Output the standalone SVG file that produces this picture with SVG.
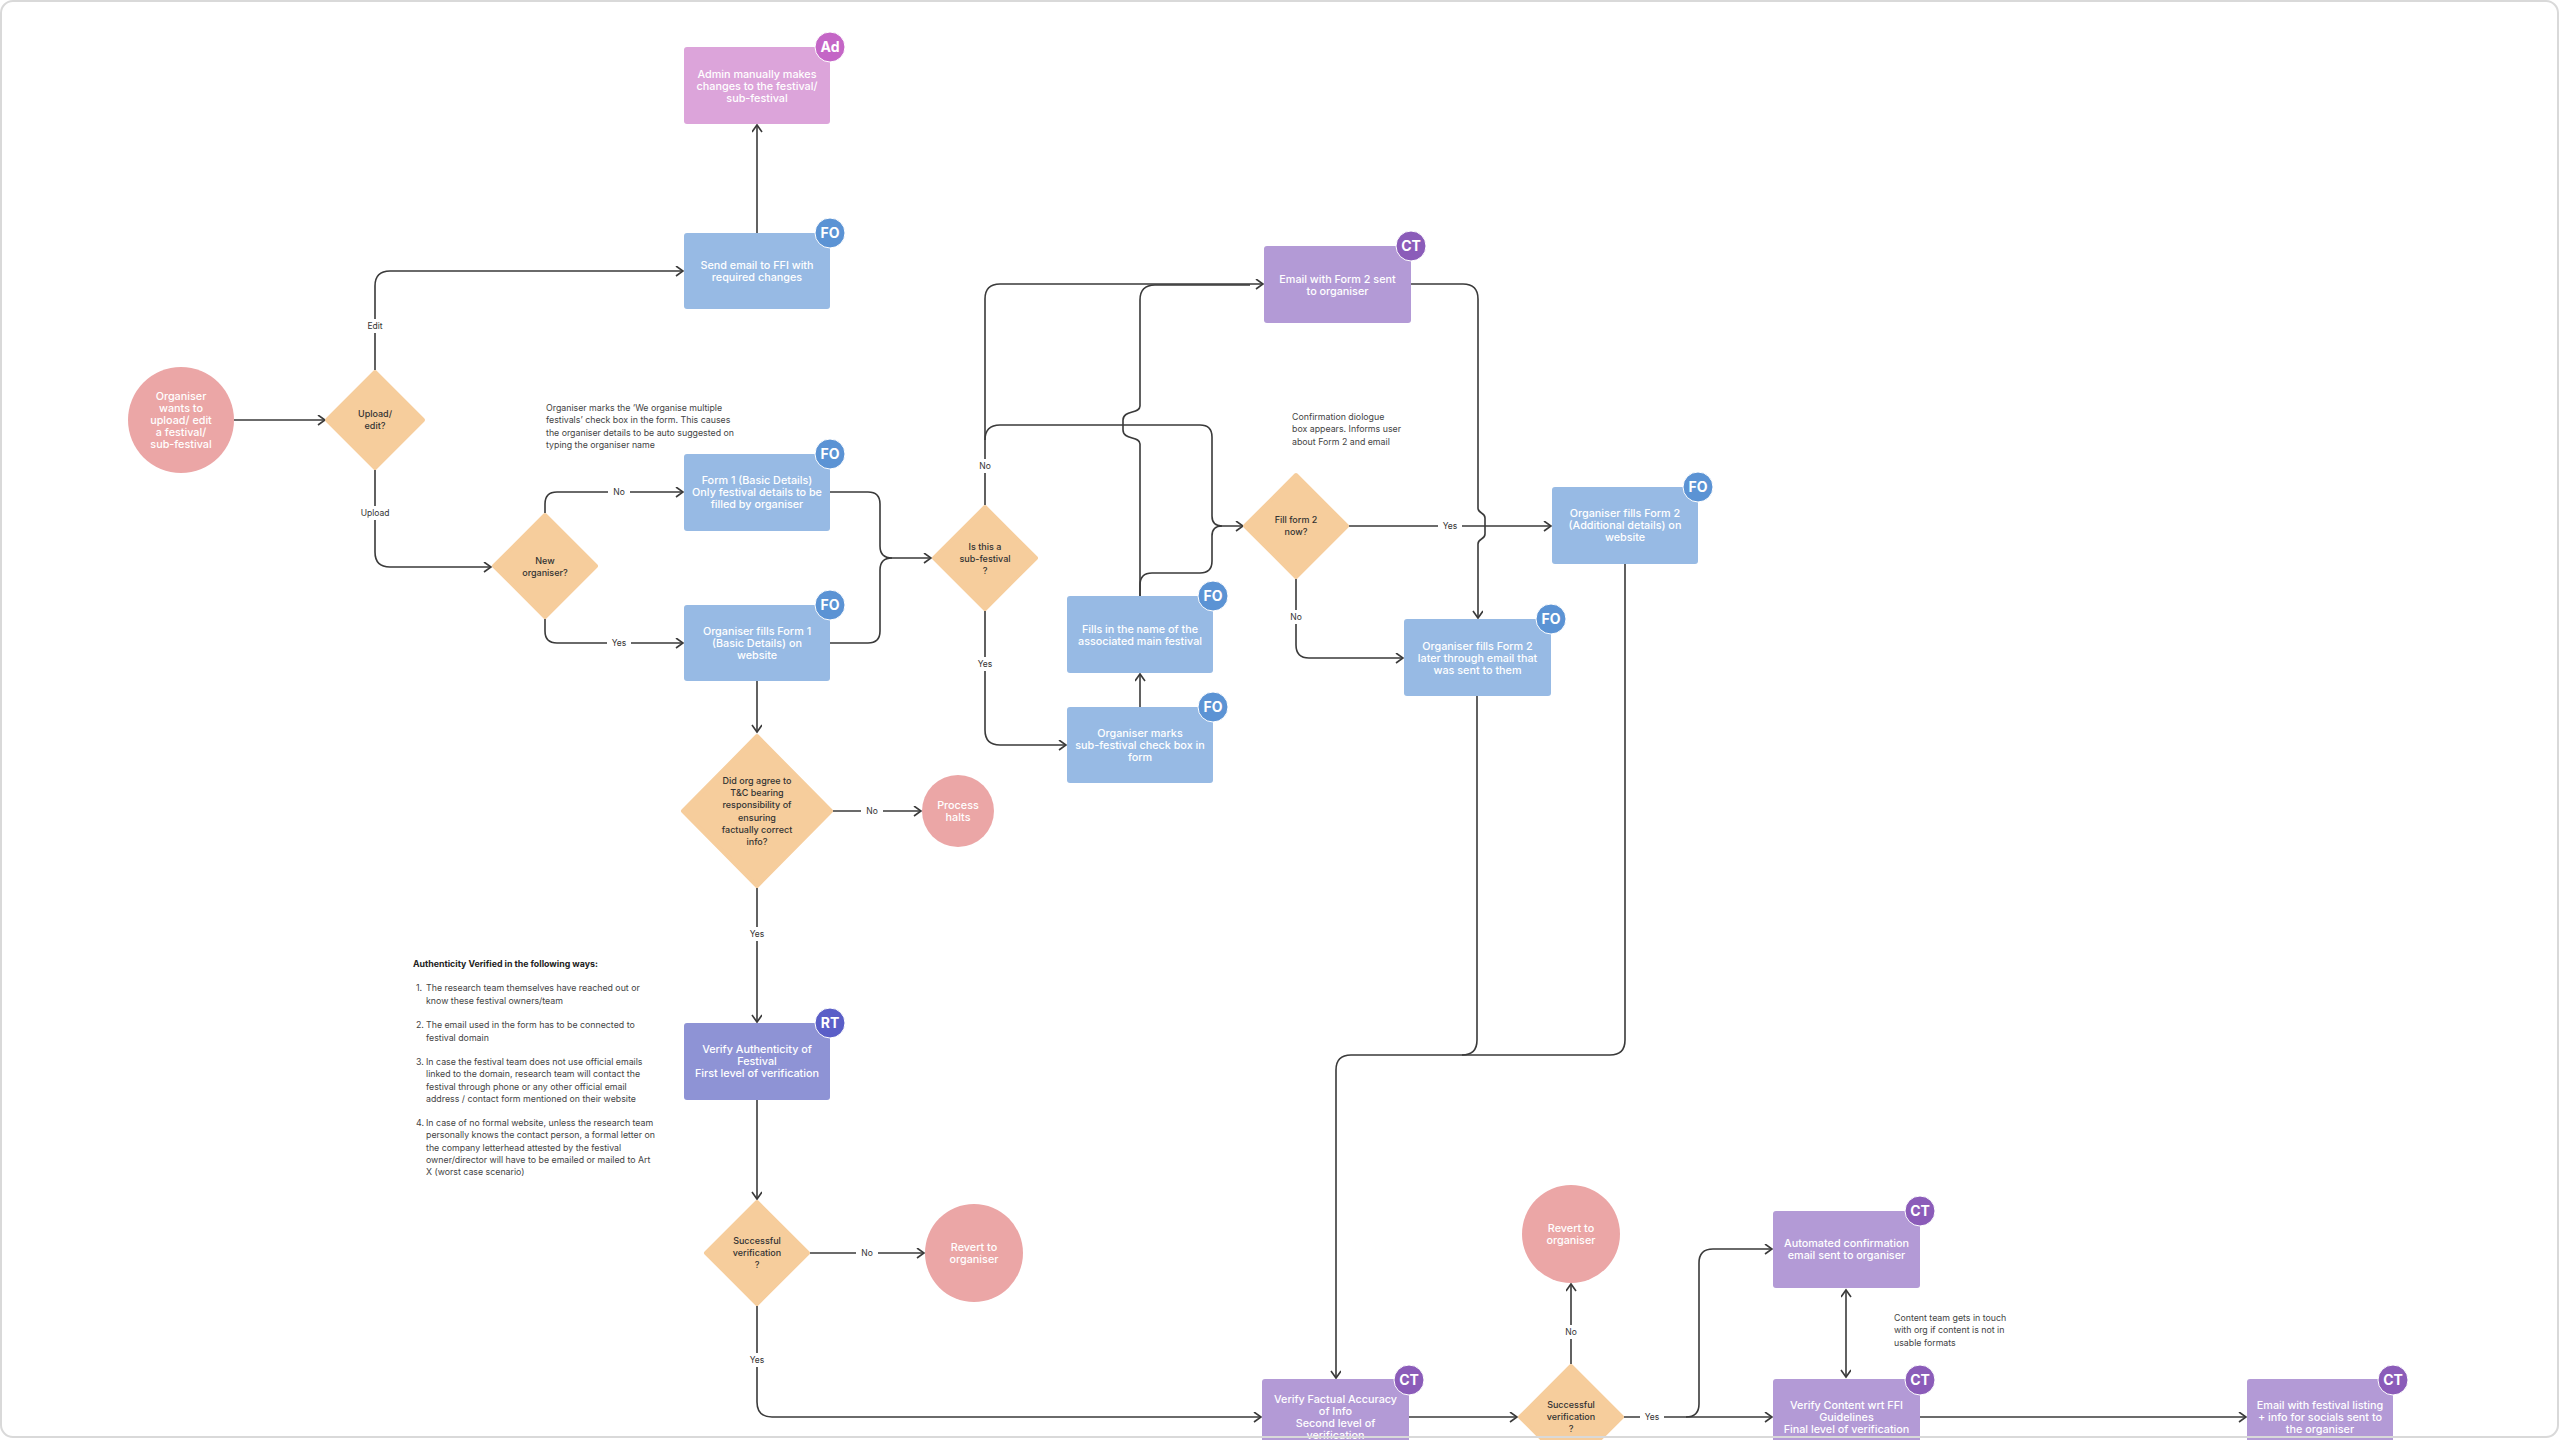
<svg xmlns="http://www.w3.org/2000/svg" width="2560" height="1440" viewBox="0 0 2560 1440">
<defs>
<style>
.t{font-family:Inter,"Liberation Sans",sans-serif;font-size:10.8px;font-weight:500;fill:#ffffff;text-anchor:middle}
.dt{font-family:Inter,"Liberation Sans",sans-serif;font-size:9px;font-weight:500;fill:#333333;text-anchor:middle}
.bt{font-family:Inter,"Liberation Sans",sans-serif;font-size:14px;font-weight:700;fill:#ffffff;text-anchor:middle}
.lbl{font-family:Inter,"Liberation Sans",sans-serif;font-size:8.5px;fill:#333333;text-anchor:middle}
.note{font-family:Inter,"Liberation Sans",sans-serif;font-size:8.8px;fill:#444444}
.noteb{font-family:Inter,"Liberation Sans",sans-serif;font-size:8.8px;font-weight:700;fill:#222222}
.conn{fill:none;stroke:#3a3a3a;stroke-width:1.6}
.arr{marker-end:url(#ah)}
.circ{fill:#eba6a6}
.dia{fill:#f6cd9c;stroke:#f6cd9c;stroke-width:4;stroke-linejoin:round}
.fo{fill:#97bae4}
.ct{fill:#b39ad6}
.ad{fill:#dca4da}
.rt{fill:#8e93d5}
.bfo{fill:#5b93d4;stroke:#ffffff;stroke-width:1}
.bct{fill:#8b5cb9;stroke:#ffffff;stroke-width:1}
.bad{fill:#c466c6;stroke:#ffffff;stroke-width:1}
.brt{fill:#5a5ec7;stroke:#ffffff;stroke-width:1}
.lb{fill:#ffffff}
</style>
<marker id="ah" markerWidth="12" markerHeight="12" refX="8" refY="5" orient="auto-start-reverse" markerUnits="userSpaceOnUse">
<path d="M1,0 L8,5 L1,10" fill="none" stroke="#3a3a3a" stroke-width="1.6"/>
</marker>
</defs>
<rect x="0" y="0" width="2560" height="1440" fill="#ffffff"/>

<g id="connectors">
<path class="conn arr" d="M234,420 H325"/>
<path class="conn arr" d="M375,370 V286 Q375,271 390,271 H683"/>
<path class="conn arr" d="M757,233 V125"/>
<path class="conn arr" d="M375,470 V552 Q375,567 390,567 H491"/>
<path class="conn arr" d="M545,513 V504 Q545,492 557,492 H683"/>
<path class="conn arr" d="M545,619 V631 Q545,643 557,643 H683"/>
<path class="conn arr" d="M830,492 H868 Q880,492 880,504 V546 Q880,558 892,558 H931"/>
<path class="conn" d="M830,643 H868 Q880,643 880,631 V570 Q880,558 892,558"/>
<path class="conn arr" d="M985,505 V299 Q985,284 1000,284 H1263"/>
<path class="conn arr" d="M985,440 Q985,425 1000,425 H1200 Q1212,425 1212,437 V516 Q1212,526 1222,526 H1243"/>
<path class="conn" d="M1140,596 V444 C1140,436 1123,440 1123,430 V420 C1123,410 1140,414 1140,406 V300 Q1140,285 1155,285 H1250"/>
<path class="conn" d="M1140,596 V585 Q1140,573 1152,573 H1200 Q1212,573 1212,561 V536 Q1212,526 1222,526"/>
<path class="conn arr" d="M1349,526 H1551"/>
<path class="conn arr" d="M1411,284 H1463 Q1478,284 1478,299 V508 C1478,514 1485,512 1485,518 V534 C1485,540 1478,538 1478,544 V618"/>
<path class="conn arr" d="M1296,579 V645 Q1296,658 1309,658 H1403"/>
<path class="conn arr" d="M985,611 V730 Q985,745 1000,745 H1066"/>
<path class="conn arr" d="M1140,707 V674"/>
<path class="conn arr" d="M757,681 V732"/>
<path class="conn arr" d="M833,811 H921"/>
<path class="conn arr" d="M757,888 V1022"/>
<path class="conn arr" d="M757,1100 V1199"/>
<path class="conn arr" d="M810,1253 H924"/>
<path class="conn arr" d="M757,1306 V1402 Q757,1417 772,1417 H1261"/>
<path class="conn arr" d="M1625,564 V1040 Q1625,1055 1610,1055 H1351 Q1336,1055 1336,1070 V1378"/>
<path class="conn" d="M1477,696 V1040 Q1477,1055 1462,1055"/>
<path class="conn arr" d="M1409,1417 H1517"/>
<path class="conn arr" d="M1571,1364 V1284"/>
<path class="conn arr" d="M1624,1417 H1772"/>
<path class="conn arr" d="M1686,1417 Q1699,1417 1699,1404 V1263 Q1699,1249 1713,1249 H1772"/>
<path class="conn" d="M1846,1290 V1377" marker-start="url(#ah)" marker-end="url(#ah)"/>
<path class="conn arr" d="M1920,1417 H2246"/>
<g id="labels">
<rect class="lb" x="363" y="319" width="24" height="14"/><text class="lbl" x="375" y="329">Edit</text>
<rect class="lb" x="358" y="506" width="34" height="14"/><text class="lbl" x="375" y="516">Upload</text>
<rect class="lb" x="608" y="485" width="22" height="14"/><text class="lbl" x="619" y="495">No</text>
<rect class="lb" x="607" y="636" width="24" height="14"/><text class="lbl" x="619" y="646">Yes</text>
<rect class="lb" x="974" y="459" width="22" height="14"/><text class="lbl" x="985" y="469">No</text>
<rect class="lb" x="973" y="657" width="24" height="14"/><text class="lbl" x="985" y="667">Yes</text>
<rect class="lb" x="1438" y="519" width="24" height="14"/><text class="lbl" x="1450" y="529">Yes</text>
<rect class="lb" x="1285" y="610" width="22" height="14"/><text class="lbl" x="1296" y="620">No</text>
<rect class="lb" x="861" y="804" width="22" height="14"/><text class="lbl" x="872" y="814">No</text>
<rect class="lb" x="745" y="927" width="24" height="14"/><text class="lbl" x="757" y="937">Yes</text>
<rect class="lb" x="856" y="1246" width="22" height="14"/><text class="lbl" x="867" y="1256">No</text>
<rect class="lb" x="745" y="1353" width="24" height="14"/><text class="lbl" x="757" y="1363">Yes</text>
<rect class="lb" x="1560" y="1325" width="22" height="14"/><text class="lbl" x="1571" y="1335">No</text>
<rect class="lb" x="1640" y="1410" width="24" height="14"/><text class="lbl" x="1652" y="1420">Yes</text>
</g>
</g>

<g id="start">
<circle class="circ" cx="181" cy="420" r="53"/>
<text class="t"><tspan x="181" y="399.5">Organiser</tspan><tspan x="181" y="411.7">wants to</tspan><tspan x="181" y="423.9">upload/ edit</tspan><tspan x="181" y="436.1">a festival/</tspan><tspan x="181" y="448.3">sub-festival</tspan></text>
</g>

<g id="upload-edit">
<polygon class="dia" points="375,372 423,420 375,468 327,420"/>
<text class="dt"><tspan x="375" y="417">Upload/</tspan><tspan x="375" y="429">edit?</tspan></text>
</g>

<g id="send-email">
<rect class="fo" x="684" y="233" width="146" height="76" rx="3"/>
<text class="t"><tspan x="757" y="268.5">Send email to FFI with</tspan><tspan x="757" y="280.7">required changes</tspan></text>
<circle class="bfo" cx="830" cy="233" r="15"/><text class="bt" x="830" y="238">FO</text>
</g>

<g id="admin">
<rect class="ad" x="684" y="47" width="146" height="77" rx="3"/>
<text class="t"><tspan x="757" y="77.5">Admin manually makes</tspan><tspan x="757" y="89.7">changes to the festival/</tspan><tspan x="757" y="101.9">sub-festival</tspan></text>
<circle class="bad" cx="830" cy="47" r="15"/><text class="bt" x="830" y="52">Ad</text>
</g>

<g id="new-organiser">
<polygon class="dia" points="545,515 596,566 545,617 494,566"/>
<text class="dt"><tspan x="545" y="564">New</tspan><tspan x="545" y="576">organiser?</tspan></text>
</g>

<g id="note-multiple">
<text class="note"><tspan x="546" y="411">Organiser marks the ‘We organise multiple</tspan><tspan x="546" y="423.3">festivals’ check box in the form. This causes</tspan><tspan x="546" y="435.6">the organiser details to be auto suggested on</tspan><tspan x="546" y="447.9">typing the organiser name</tspan></text>
</g>

<g id="form1">
<rect class="fo" x="684" y="454" width="146" height="77" rx="3"/>
<text class="t"><tspan x="757" y="483.5">Form 1 (Basic Details)</tspan><tspan x="757" y="495.7">Only festival details to be</tspan><tspan x="757" y="507.9">filled by organiser</tspan></text>
<circle class="bfo" cx="830" cy="454" r="15"/><text class="bt" x="830" y="459">FO</text>
</g>

<g id="form1-new">
<rect class="fo" x="684" y="605" width="146" height="76" rx="3"/>
<text class="t"><tspan x="757" y="634.5">Organiser fills Form 1</tspan><tspan x="757" y="646.7">(Basic Details) on</tspan><tspan x="757" y="658.9">website</tspan></text>
<circle class="bfo" cx="830" cy="605" r="15"/><text class="bt" x="830" y="610">FO</text>
</g>

<g id="is-sub-festival">
<polygon class="dia" points="985,507 1036,558 985,609 934,558"/>
<text class="dt"><tspan x="985" y="550">Is this a</tspan><tspan x="985" y="562">sub-festival</tspan><tspan x="985" y="574">?</tspan></text>
</g>

<g id="email-form2">
<rect class="ct" x="1264" y="246" width="147" height="77" rx="3"/>
<text class="t"><tspan x="1337.5" y="282.5">Email with Form 2 sent</tspan><tspan x="1337.5" y="294.7">to organiser</tspan></text>
<circle class="bct" cx="1411" cy="246" r="15"/><text class="bt" x="1411" y="251">CT</text>
</g>

<g id="fills-name">
<rect class="fo" x="1067" y="596" width="146" height="77" rx="3"/>
<text class="t"><tspan x="1140" y="632.5">Fills in the name of the</tspan><tspan x="1140" y="644.7">associated main festival</tspan></text>
<circle class="bfo" cx="1213" cy="596" r="15"/><text class="bt" x="1213" y="601">FO</text>
</g>

<g id="marks-sub">
<rect class="fo" x="1067" y="707" width="146" height="76" rx="3"/>
<text class="t"><tspan x="1140" y="736.5">Organiser marks</tspan><tspan x="1140" y="748.7">sub-festival check box in</tspan><tspan x="1140" y="760.9">form</tspan></text>
<circle class="bfo" cx="1213" cy="707" r="15"/><text class="bt" x="1213" y="712">FO</text>
</g>

<g id="note-confirmation">
<text class="note"><tspan x="1292" y="420">Confirmation diologue</tspan><tspan x="1292" y="432.3">box appears. Informs user</tspan><tspan x="1292" y="444.6">about Form 2 and email</tspan></text>
</g>

<g id="fill-form2">
<polygon class="dia" points="1296,475 1347,526 1296,577 1245,526"/>
<text class="dt"><tspan x="1296" y="523">Fill form 2</tspan><tspan x="1296" y="535">now?</tspan></text>
</g>

<g id="form2-website">
<rect class="fo" x="1552" y="487" width="146" height="77" rx="3"/>
<text class="t"><tspan x="1625" y="516.5">Organiser fills Form 2</tspan><tspan x="1625" y="528.7">(Additional details) on</tspan><tspan x="1625" y="540.9">website</tspan></text>
<circle class="bfo" cx="1698" cy="487" r="15"/><text class="bt" x="1698" y="492">FO</text>
</g>

<g id="form2-later">
<rect class="fo" x="1404" y="619" width="147" height="77" rx="3"/>
<text class="t"><tspan x="1477.5" y="649.5">Organiser fills Form 2</tspan><tspan x="1477.5" y="661.7">later through email that</tspan><tspan x="1477.5" y="673.9">was sent to them</tspan></text>
<circle class="bfo" cx="1551" cy="619" r="15"/><text class="bt" x="1551" y="624">FO</text>
</g>

<g id="tc-agree">
<polygon class="dia" points="757,736 831,811 757,886 683,811"/>
<text class="dt"><tspan x="757" y="784">Did org agree to</tspan><tspan x="757" y="796.2">T&amp;C bearing</tspan><tspan x="757" y="808.4">responsibility of</tspan><tspan x="757" y="820.6">ensuring</tspan><tspan x="757" y="832.8">factually correct</tspan><tspan x="757" y="845">info?</tspan></text>
</g>

<g id="process-halts">
<circle class="circ" cx="958" cy="811" r="36"/>
<text class="t"><tspan x="958" y="808.5">Process</tspan><tspan x="958" y="820.7">halts</tspan></text>
</g>

<g id="note-authenticity">
<text class="noteb" x="413" y="967">Authenticity Verified in the following ways:</text>
<text class="note"><tspan x="416" y="991">1.</tspan><tspan x="426" y="991">The research team themselves have reached out or</tspan><tspan x="426" y="1003.5">know these festival owners/team</tspan><tspan x="416" y="1028">2.</tspan><tspan x="426" y="1028">The email used in the form has to be connected to</tspan><tspan x="426" y="1040.5">festival domain</tspan><tspan x="416" y="1065">3.</tspan><tspan x="426" y="1065">In case the festival team does not use official emails</tspan><tspan x="426" y="1077.3">linked to the domain, research team will contact the</tspan><tspan x="426" y="1089.6">festival through phone or any other official email</tspan><tspan x="426" y="1101.9">address / contact form mentioned on their website</tspan><tspan x="416" y="1126">4.</tspan><tspan x="426" y="1126">In case of no formal website, unless the research team</tspan><tspan x="426" y="1138.3">personally knows the contact person, a formal letter on</tspan><tspan x="426" y="1150.6">the company letterhead attested by the festival</tspan><tspan x="426" y="1162.9">owner/director will have to be emailed or mailed to Art</tspan><tspan x="426" y="1175.2">X (worst case scenario)</tspan></text>
</g>

<g id="verify-authenticity">
<rect class="rt" x="684" y="1023" width="146" height="77" rx="3"/>
<text class="t"><tspan x="757" y="1052.5">Verify Authenticity of</tspan><tspan x="757" y="1064.7">Festival</tspan><tspan x="757" y="1076.9">First level of verification</tspan></text>
<circle class="brt" cx="830" cy="1023" r="15"/><text class="bt" x="830" y="1028">RT</text>
</g>

<g id="successful-1">
<polygon class="dia" points="757,1202 808,1253 757,1304 706,1253"/>
<text class="dt"><tspan x="757" y="1244">Successful</tspan><tspan x="757" y="1256">verification</tspan><tspan x="757" y="1268">?</tspan></text>
</g>

<g id="revert-1">
<circle class="circ" cx="974" cy="1253" r="49"/>
<text class="t"><tspan x="974" y="1250.5">Revert to</tspan><tspan x="974" y="1262.7">organiser</tspan></text>
</g>

<g id="verify-factual">
<rect class="ct" x="1262" y="1379" width="147" height="77" rx="3"/>
<text class="t"><tspan x="1335.5" y="1402.5">Verify Factual Accuracy</tspan><tspan x="1335.5" y="1414.7">of Info</tspan><tspan x="1335.5" y="1426.9">Second level of</tspan><tspan x="1335.5" y="1439.1">verification</tspan></text>
<circle class="bct" cx="1409" cy="1380" r="15"/><text class="bt" x="1409" y="1385">CT</text>
</g>

<g id="successful-2">
<polygon class="dia" points="1571,1366 1622,1417 1571,1468 1520,1417"/>
<text class="dt"><tspan x="1571" y="1408">Successful</tspan><tspan x="1571" y="1420">verification</tspan><tspan x="1571" y="1432">?</tspan></text>
</g>

<g id="revert-2">
<circle class="circ" cx="1571" cy="1234" r="49"/>
<text class="t"><tspan x="1571" y="1231.5">Revert to</tspan><tspan x="1571" y="1243.7">organiser</tspan></text>
</g>

<g id="auto-email">
<rect class="ct" x="1773" y="1211" width="147" height="77" rx="3"/>
<text class="t"><tspan x="1846.5" y="1246.5">Automated confirmation</tspan><tspan x="1846.5" y="1258.7">email sent to organiser</tspan></text>
<circle class="bct" cx="1920" cy="1211" r="15"/><text class="bt" x="1920" y="1216">CT</text>
</g>

<g id="note-content">
<text class="note"><tspan x="1894" y="1321">Content team gets in touch</tspan><tspan x="1894" y="1333.3">with org if content is not in</tspan><tspan x="1894" y="1345.6">usable formats</tspan></text>
</g>

<g id="verify-content">
<rect class="ct" x="1773" y="1379" width="147" height="77" rx="3"/>
<text class="t"><tspan x="1846.5" y="1408.5">Verify Content wrt FFI</tspan><tspan x="1846.5" y="1420.7">Guidelines</tspan><tspan x="1846.5" y="1432.9">Final level of verification</tspan></text>
<circle class="bct" cx="1920" cy="1380" r="15"/><text class="bt" x="1920" y="1385">CT</text>
</g>

<g id="email-listing">
<rect class="ct" x="2247" y="1379" width="146" height="77" rx="3"/>
<text class="t"><tspan x="2320" y="1408.5">Email with festival listing</tspan><tspan x="2320" y="1420.7">+ info for socials sent to</tspan><tspan x="2320" y="1432.9">the organiser</tspan></text>
<circle class="bct" cx="2393" cy="1380" r="15"/><text class="bt" x="2393" y="1385">CT</text>
</g>

<rect x="1" y="1" width="2557" height="1436" rx="12" fill="none" stroke="#d9d9d9" stroke-width="2"/>
</svg>
